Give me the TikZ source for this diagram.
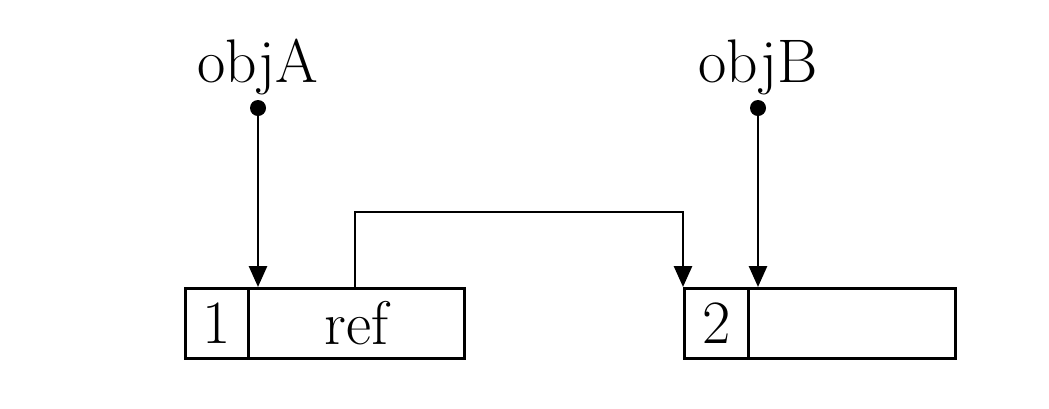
\documentclass[tikz,border=0pt]{standalone}
\usetikzlibrary{arrows.meta}
\begin{document}
\begin{tikzpicture}[x=0.01cm,y=-0.01cm,
  every node/.style={font=\fontsize{17.5}{21}\selectfont},
  cell/.style={draw,line width=0.8pt,inner sep=0pt,minimum height=0.7cm,anchor=north west},
  conn/.style={line width=0.8pt,-{Triangle[length=2.1mm,width=1.8mm]}},
  dotmark/.style={circle,fill,inner sep=0pt,minimum size=0.16cm},
  lbl/.style={inner sep=0pt,anchor=base}]
\useasboundingbox (0,0) rectangle (1049,408);
\node[cell,minimum width=0.63cm] (c1) at (184,287) {1};
\node[cell,minimum width=2.16cm] (r1) at (247,287) {ref};
\node[cell,minimum width=0.64cm] (c2) at (683,287) {2};
\node[cell,minimum width=2.07cm] (r2) at (747,287) {};
\node[lbl] (la) at (258,82) {objA};
\node[lbl] (lb) at (758,82) {objB};
\node[dotmark] (da) at (258,108) {};
\node[dotmark] (db) at (758,108) {};
\coordinate (sa) at (355,287);
\draw[conn] (da.center) -- (da.center |- r1.north);
\draw[conn] (db.center) -- (db.center |- r2.north);
\draw[conn] (sa) -- (355,212) -| (c2.north west);
\end{tikzpicture}
\end{document}
